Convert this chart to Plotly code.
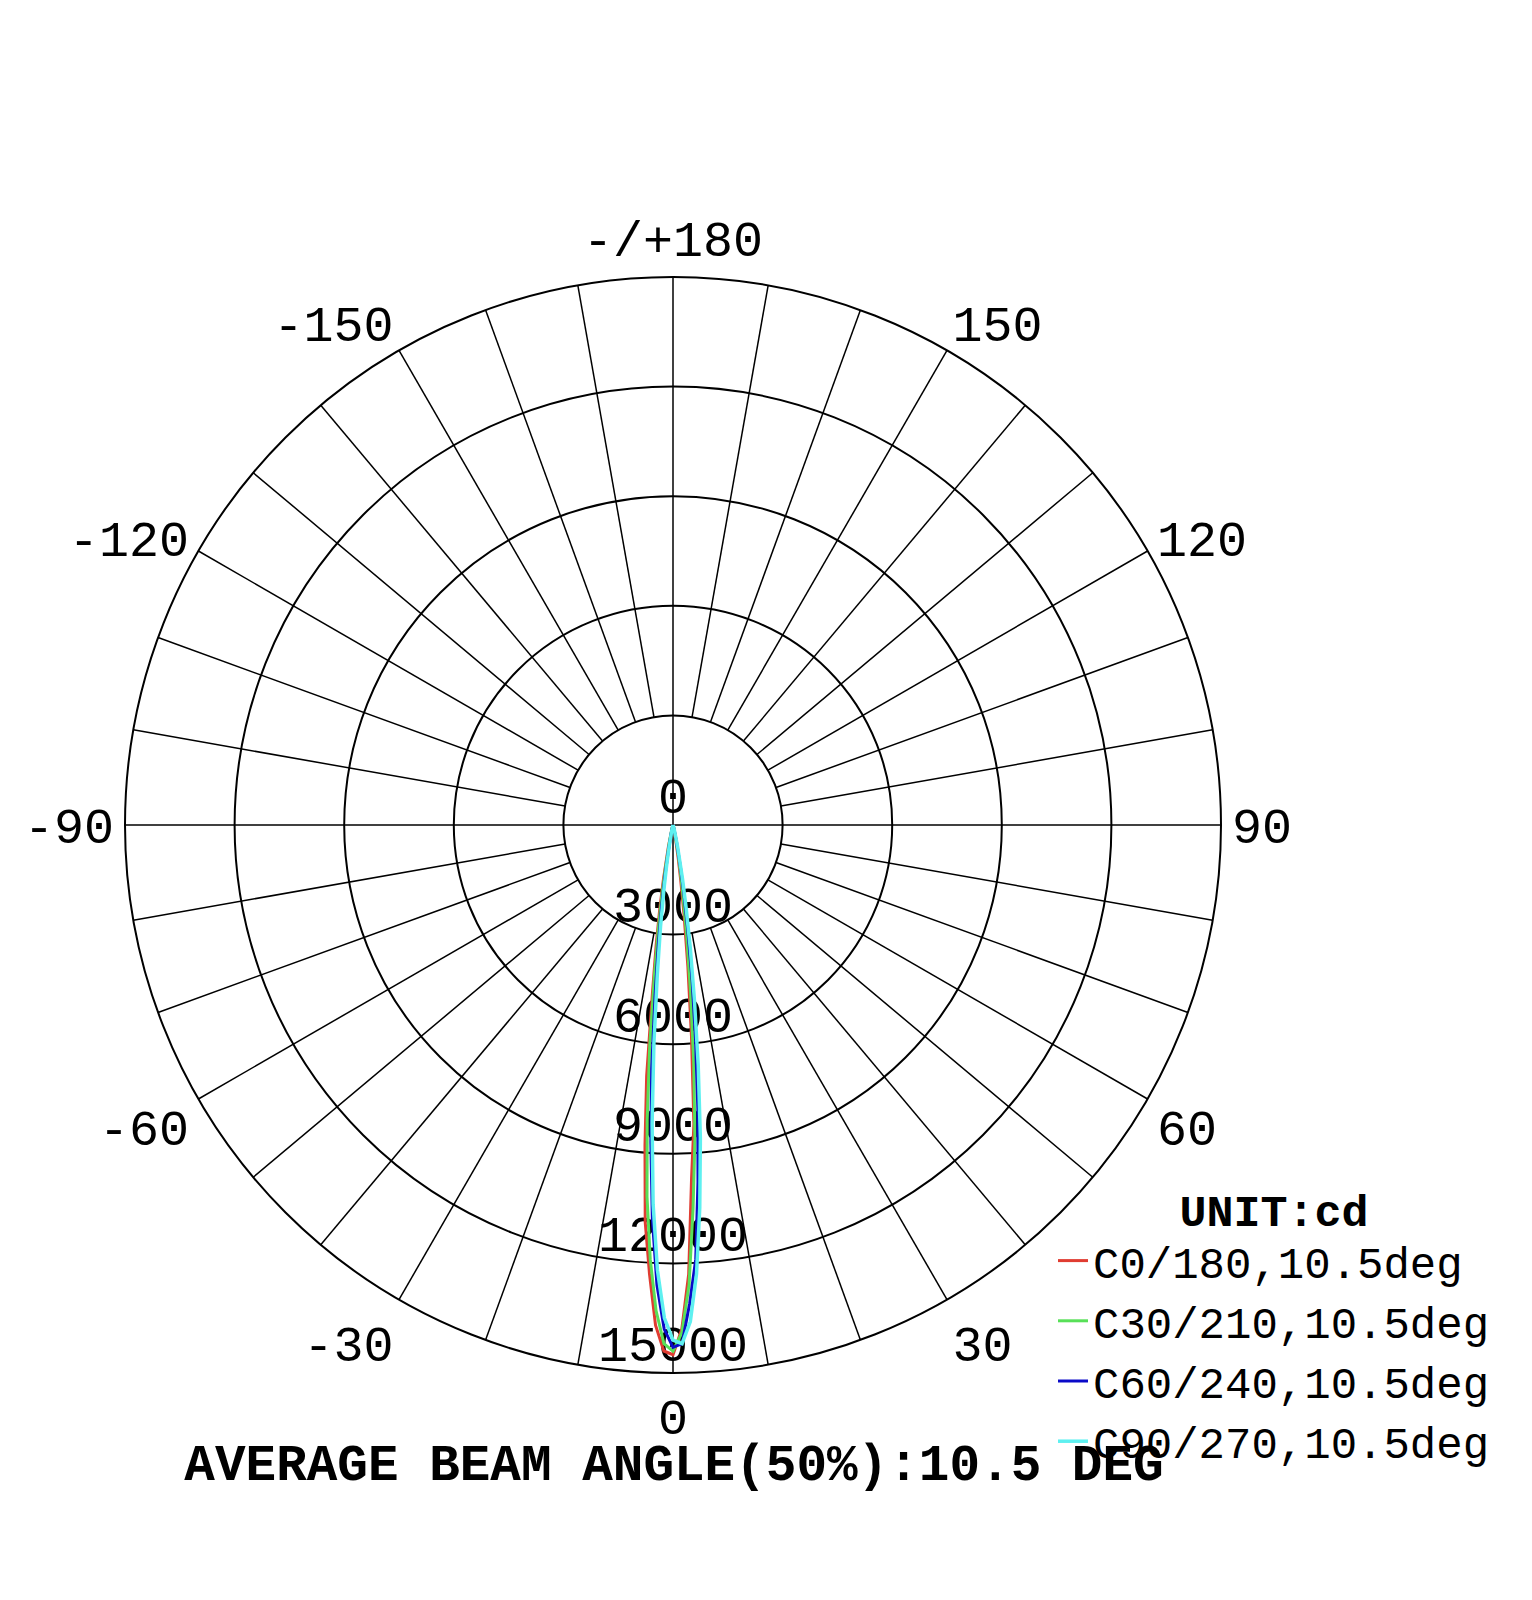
import plotly.graph_objects as go

# gamma angles (deg) and luminous intensity (cd) per C-plane
gamma = [-90, -30, -20, -15, -12, -10, -9, -8, -7, -6, -5, -4, -3, -2, -1, 0,
         1, 2, 3, 4, 5, 6, 7, 8, 9, 10, 12, 15, 20, 30, 90]

c0_180 = [0, 0, 20, 120, 600, 1500, 2300, 3300, 4600, 6900, 8800, 10900, 12300, 13700, 14400, 14500,
          13800, 12300, 9700, 8200, 5800, 3900, 2500, 1500, 900, 500, 150, 40, 10, 0, 0]
c30_210 = [0, 0, 15, 100, 450, 1200, 1900, 2900, 4200, 6100, 8100, 10200, 11900, 13300, 14200, 14400,
           13900, 12600, 10500, 8600, 6500, 4600, 3100, 2000, 1300, 800, 250, 60, 15, 0, 0]
c60_240 = [0, 0, 10, 60, 250, 800, 1400, 2200, 3300, 4700, 6700, 8700, 10800, 12600, 13800, 14300,
           14200, 13100, 11900, 9800, 7800, 5900, 4300, 2900, 1900, 1200, 450, 100, 20, 0, 0]
c90_270 = [0, 0, 10, 50, 200, 650, 1100, 1800, 2800, 4100, 6000, 8200, 10400, 12200, 13500, 14100,
           14200, 13600, 12300, 10500, 8600, 6600, 4800, 3400, 2300, 1500, 600, 150, 30, 0, 0]

series_names = ["C0/180,10.5deg", "C30/210,10.5deg", "C60/240,10.5deg", "C90/270,10.5deg"]
series_values = [c0_180, c30_210, c60_240, c90_270]
series_colors = ["#e03c31", "#58e058", "#0a0ac8", "#5ef0f0"]

radial_ticks = [0, 3000, 6000, 9000, 12000, 15000]
angle_ticks = [0, 30, 60, 90, 120, 150, 180, 210, 240, 270, 300, 330]
angle_labels = ["0", "30", "60", "90", "120", "150", "-/+180", "-150", "-120", "-90", "-60", "-30"]

FONT = "Liberation Mono, Courier New, monospace"

# polar circle placement (pixels)
cx, cy, rad = 665, 817, 548
W, H = 1532, 1600

fig = go.Figure()

# spokes: every 10 deg from the inner circle, main axes through the centre
spoke_r, spoke_t = [], []
for a in range(0, 360, 10):
    spoke_r += [0 if a % 90 == 0 else 3000, 15000, None]
    spoke_t += [a, a, None]
fig.add_trace(go.Scatterpolar(r=spoke_r, theta=spoke_t, mode="lines",
                              line=dict(color="black", width=1.5),
                              showlegend=False, hoverinfo="skip"))

# radial value labels along the 0 deg line
fig.add_trace(go.Scatterpolar(r=radial_ticks, theta=[0] * len(radial_ticks),
                              mode="text", text=[str(v) for v in radial_ticks],
                              textposition="top center", marker=dict(size=0),
                              textfont=dict(family=FONT, size=50, color="black"),
                              cliponaxis=False, showlegend=False, hoverinfo="skip"))

for name, vals, col in zip(series_names, series_values, series_colors):
    fig.add_trace(go.Scatterpolar(r=vals, theta=gamma, mode="lines", name=name,
                                  line=dict(color=col, width=3 if col != "#5ef0f0" else 3.5)))

fig.update_layout(
    width=W, height=H,
    margin=dict(l=0, r=0, t=0, b=0),
    paper_bgcolor="white", plot_bgcolor="white",
    polar=dict(
        domain=dict(x=[(cx - rad) / W, (cx + rad) / W],
                    y=[(H - cy - rad) / H, (H - cy + rad) / H]),
        bgcolor="white",
        radialaxis=dict(range=[0, 15000], tickvals=radial_ticks[1:-1], showticklabels=False,
                        ticks="", showline=False, gridcolor="black", gridwidth=1.5),
        angularaxis=dict(rotation=-90, direction="counterclockwise",
                         tickvals=angle_ticks, ticktext=angle_labels, ticks="",
                         showgrid=False, showline=True, linecolor="black", linewidth=2,
                         tickfont=dict(family=FONT, size=50, color="black")),
    ),
    title=dict(text="AVERAGE BEAM ANGLE(50%):10.5 DEG", x=666 / W, xanchor="center",
               y=1 - 1454 / H, yanchor="middle",
               font=dict(family=FONT, size=51, color="black", weight="bold")),
    legend=dict(x=1045 / W, xanchor="left", y=1 - 1159 / H, yanchor="top",
                bgcolor="rgba(0,0,0,0)",
                font=dict(family=FONT, size=44, color="black"),
                title=dict(text="UNIT:cd", side="top center",
                           font=dict(family=FONT, size=45, color="black", weight="bold"))),
)

fig.write_html("out.html")
